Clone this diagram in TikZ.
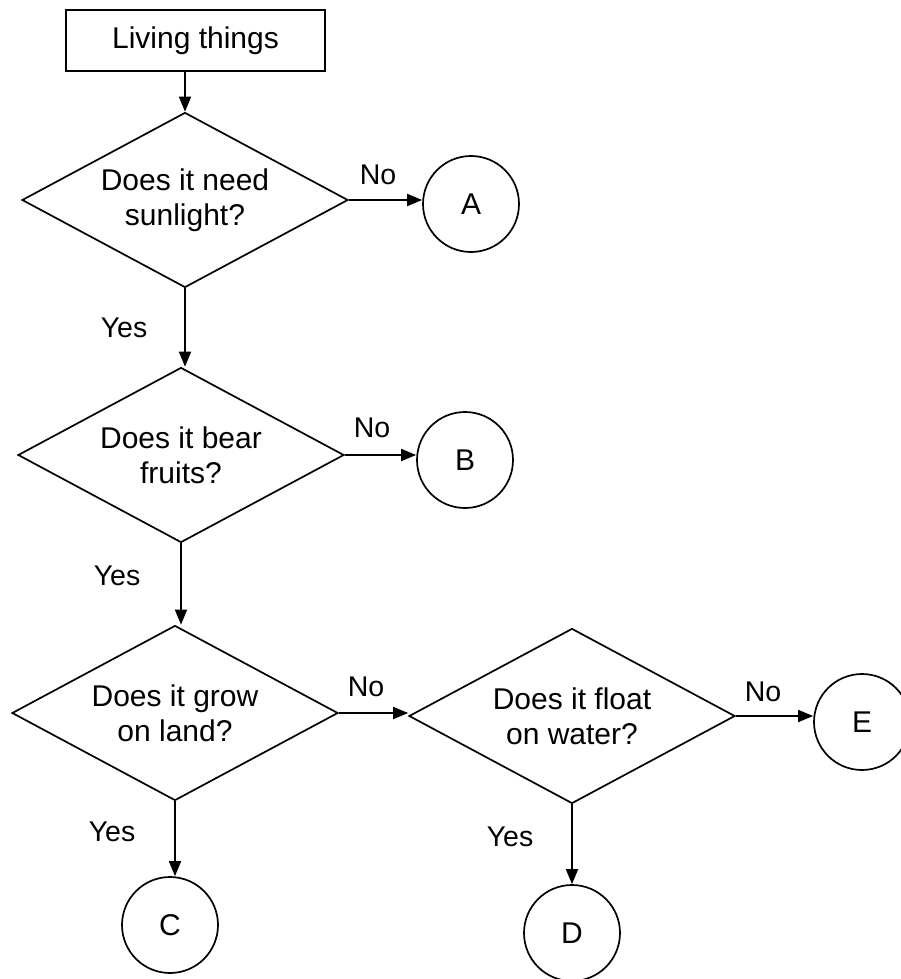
\documentclass[tikz,border=0pt]{standalone}
\usepackage{fontspec}
\setmainfont{Liberation Sans}
\usetikzlibrary{shapes.geometric,arrows.meta}
\begin{document}
\begin{tikzpicture}[x=1pt,y=-1pt,
  every node/.style={font=\fontsize{30}{35}\selectfont},
  qbox/.style={draw,line width=1.7pt,diamond,inner sep=0pt,aspect=1.87,minimum width=326pt,minimum height=175pt,align=center},
  endc/.style={draw,line width=1.7pt,circle,minimum size=96pt,inner sep=0pt},
  startbox/.style={draw,line width=1.7pt,rectangle,minimum width=259pt,minimum height=61pt},
  lab/.style={font=\fontsize{28.5}{32}\selectfont},
  conn/.style={line width=1.8pt,-{Triangle[length=15pt,width=12pt]}}]
\fill[white] (0,0) rectangle (901,979);
\useasboundingbox (0,0) rectangle (901,979);

\node[startbox] (start) at (195.5,40.5) {Living things};
\node[qbox] (q1) at (185,200) {Does it need\\sunlight?};
\node[endc] (A) at (471,204) {A};
\node[qbox] (q2) at (181,455) {Does it bear\\fruits?};
\node[endc] (B) at (465,460) {B};
\node[qbox] (q3) at (175,713) {Does it grow\\on land?};
\node[qbox] (q4) at (572,716) {Does it float\\on water?};
\node[endc] (E) at (862,722) {E};
\node[endc] (C) at (170,925) {C};
\node[endc] (D) at (572,933) {D};

\draw[conn] (start.south -| q1.north) -- (q1.north);
\draw[conn] (q1.east) -- (q1.east -| A.west);
\draw[conn] (q1.south) -- (q1.south |- q2.north);
\draw[conn] (q2.east) -- (q2.east -| B.west);
\draw[conn] (q2.south) -- (q2.south |- q3.north);
\draw[conn] (q3.east) -- (q3.east -| q4.west);
\draw[conn] (q3.south) -- (q3.south |- C.north);
\draw[conn] (q4.east) -- (q4.east -| E.west);
\draw[conn] (q4.south) -- (D.north);

\node[lab] (n1) at (378,175) {No};
\node[lab] (y1) at (124,328) {Yes};
\node[lab] (n2) at (372,428) {No};
\node[lab] (y2) at (117,576) {Yes};
\node[lab] (n3) at (366,687) {No};
\node[lab] (y3) at (112,832) {Yes};
\node[lab] (n4) at (763,692) {No};
\node[lab] (y4) at (510,837) {Yes};
\end{tikzpicture}
\end{document}
